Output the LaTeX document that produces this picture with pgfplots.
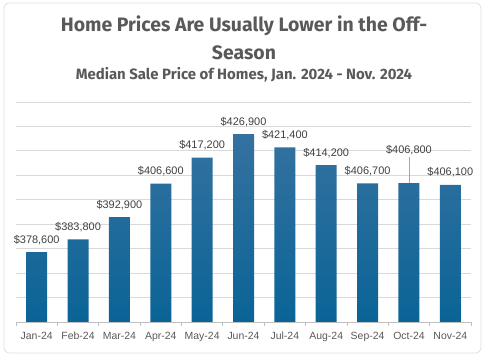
\documentclass[border=0pt]{standalone}
\usepackage{pgfplots}
\pgfplotsset{compat=1.18}
\usepackage{fontspec}
\setmainfont{Liberation Sans}
\newfontfamily\titlefont{Fira Sans}
\definecolor{titlegray}{HTML}{595959}
\definecolor{labgray}{HTML}{404040}
\definecolor{gridgray}{HTML}{D9D9D9}
\definecolor{axisgray}{HTML}{BFBFBF}
\definecolor{bartop}{RGB}{52,114,160}
\definecolor{barbot}{RGB}{10,100,150}
\begin{document}
\begin{tikzpicture}
\useasboundingbox (0,0) rectangle (488bp,356bp);
\draw[gray!25, rounded corners=5bp, line width=0.8bp] (4bp,3bp) rectangle (481bp,353bp);
\node[text=titlegray, font=\titlefont\bfseries\fontsize{19.5}{22}\selectfont] at (244bp,330bp) {Home Prices Are Usually Lower in the Off-};
\node[text=titlegray, font=\titlefont\bfseries\fontsize{19.5}{22}\selectfont] at (244bp,303bp) {Season};
\node[text=titlegray, font=\titlefont\bfseries\fontsize{15}{18}\selectfont] at (244bp,281bp) {Median Sale Price of Homes, Jan. 2024 - Nov. 2024};
\begin{axis}[
  at={(16bp,34bp)}, anchor=south west,
  scale only axis, width=455bp, height=220bp,
  xmin=-0.5, xmax=10.5, ymin=350000, ymax=440000,
  ybar, bar width=21bp,
  axis x line*=bottom,
  x axis line style={draw=axisgray, line width=0.8bp},
  y axis line style={draw=none},
  xtick={0,...,10},
  xticklabels={Jan-24,Feb-24,Mar-24,Apr-24,May-24,Jun-24,Jul-24,Aug-24,Sep-24,Oct-24,Nov-24},
  major x tick style={draw=none},
  minor xtick={-0.5,0.5,...,10.5},
  minor x tick style={draw=axisgray, line width=0.8bp},
  minor tick length=4bp,
  tick align=outside,
  scaled y ticks=false,
  ytick={350000,360000,...,440000},
  yticklabels={},
  major y tick style={draw=none},
  ymajorgrids, grid style={gridgray, line width=0.8bp},
  xticklabel style={text=titlegray, font=\fontsize{10.5}{12}\selectfont, yshift=-2bp},
  /pgf/number format/assume math mode=true,
  nodes near coords={\$\pgfmathprintnumber[fixed, precision=0, 1000 sep={,}]{\pgfplotspointmeta}},
  point meta=y,
  visualization depends on={\thisrow{dy} \as \dy},
  every node near coord/.append style={text=labgray, font=\fontsize{11}{13}\selectfont, yshift=\dy},
  clip=false,
]
\addplot[draw=none, top color=bartop, bottom color=barbot] table[x=x, y=y] {
x y dy
0 378600 4
1 383800 4
2 392900 4
3 406600 4
4 417200 4
5 426900 4
6 421400 4
7 414200 4
8 406700 4
9 406800 25
10 406100 4
};
\draw[gray!70, line width=0.6bp] (axis cs:9,406800) -- (axis cs:9,417500);
\end{axis}
\end{tikzpicture}
\end{document}
